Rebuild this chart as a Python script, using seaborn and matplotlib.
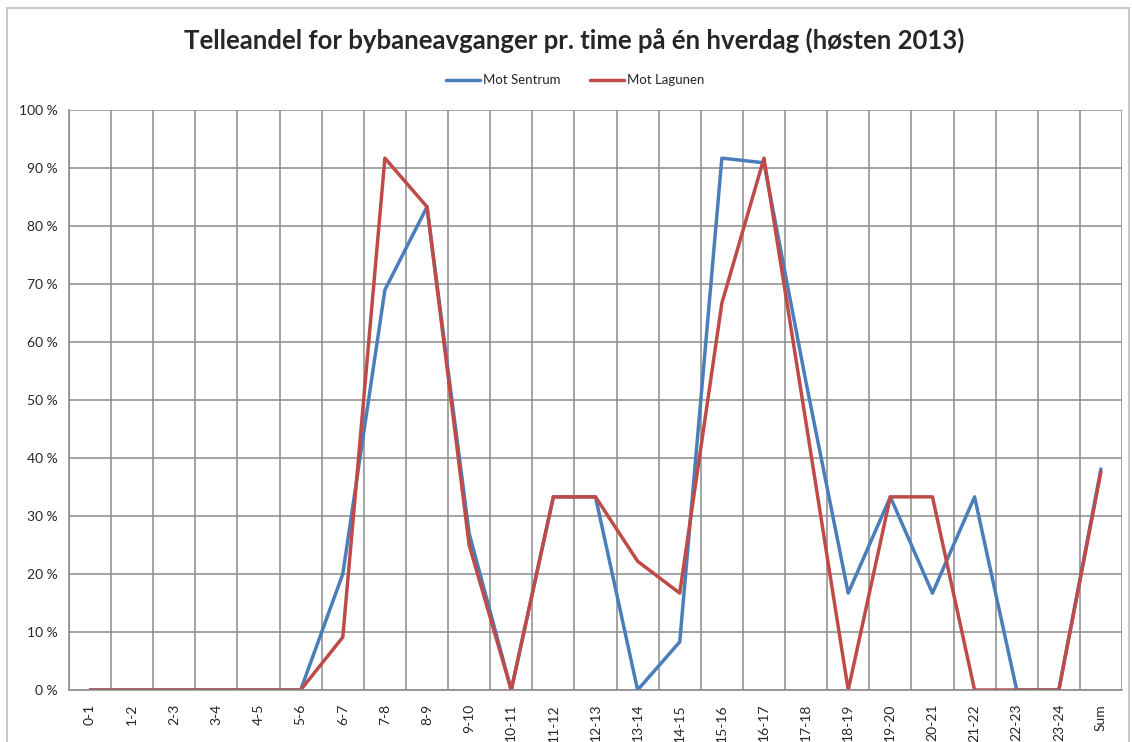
import numpy as np
import pandas as pd
import seaborn as sns
import matplotlib.pyplot as plt
from matplotlib.patches import Rectangle
from matplotlib.ticker import FuncFormatter

# data (share of departures counted, per hour)
hours = ["0-1", "1-2", "2-3", "3-4", "4-5", "5-6", "6-7", "7-8", "8-9", "9-10",
         "10-11", "11-12", "12-13", "13-14", "14-15", "15-16", "16-17", "17-18",
         "18-19", "19-20", "20-21", "21-22", "22-23", "23-24", "Sum"]
mot_sentrum = [0, 0, 0, 0, 0, 0, 0.20, 0.69, 0.833, 0.27,
               0, 0.333, 0.333, 0, 0.083, 0.917, 0.909, 0.53,
               0.167, 0.333, 0.167, 0.333, 0, 0, 0.381]
mot_lagunen = [0, 0, 0, 0, 0, 0, 0.091, 0.917, 0.833, 0.25,
               0, 0.333, 0.333, 0.222, 0.167, 0.667, 0.917, 0.46,
               0, 0.333, 0.333, 0, 0, 0, 0.376]
series = ["Mot Sentrum", "Mot Lagunen"]
colors = ["#4A7EBB", "#BE4B48"]

df = pd.DataFrame({
    "Time": hours * 2,
    "Andel": mot_sentrum + mot_lagunen,
    "Retning": [series[0]] * len(hours) + [series[1]] * len(hours),
})

sns.set_style("white")
plt.rcParams['font.family'] = ['Lato', 'DejaVu Sans']

fig = plt.figure(figsize=(11.32, 7.42), dpi=100)
ax = fig.add_axes([69 / 1132, 52 / 742, 1053 / 1132, 580 / 742])

sns.lineplot(data=df, x="Time", y="Andel", hue="Retning", palette=colors,
             sort=False, linewidth=2.5, ax=ax, legend=False)

ax.set_xlim(-0.5, len(hours) - 0.5)
ax.set_ylim(0, 1)
ax.set_xlabel("")
ax.set_ylabel("")

# y axis: 0 % .. 100 %
ax.set_yticks(np.arange(0, 1.01, 0.1))
ax.yaxis.set_major_formatter(FuncFormatter(lambda v, p: f"{v * 100:.0f} %"))
ax.tick_params(axis="y", length=5, width=1, color="#868686", labelsize=10, pad=3)

# x axis: labels at categories, ticks and grid at boundaries
ax.set_xticks(np.arange(len(hours)))
ax.set_xticklabels(hours, rotation=90)
ax.set_xticks(np.arange(-0.5, len(hours), 1), minor=True)
ax.tick_params(axis="x", which="major", length=0, labelsize=10, pad=10)
ax.tick_params(axis="x", which="minor", length=5, width=1, color="#868686")

ax.grid(True, axis="y", which="major", color="#8c8c8c", linewidth=1.1)
ax.grid(True, axis="x", which="minor", color="#8c8c8c", linewidth=1.1)
ax.set_axisbelow(True)
for side in ["top", "right"]:
    ax.spines[side].set_visible(False)
for side in ["left", "bottom"]:
    ax.spines[side].set_color("#868686")
    ax.spines[side].set_linewidth(1.1)

fig.text(0.507, 0.946, "Telleandel for bybaneavganger pr. time på én hverdag (høsten 2013)",
         ha="center", va="center", fontsize=18.5, fontweight="bold")

handles = [plt.Line2D([], [], color=c, linewidth=2.5) for c in colors]
fig.legend(handles, series, loc="center", bbox_to_anchor=(0.508, 0.892), ncol=2,
           frameon=False, fontsize=9.5, handlelength=2.6, handletextpad=0.2,
           columnspacing=2.2)

# chart area border
fig.patches.append(Rectangle((0.006, -0.02), 0.991, 1.009, transform=fig.transFigure,
                             fill=False, edgecolor="#bfbfbf", linewidth=1.2))

fig.savefig("out.png", dpi=100)
